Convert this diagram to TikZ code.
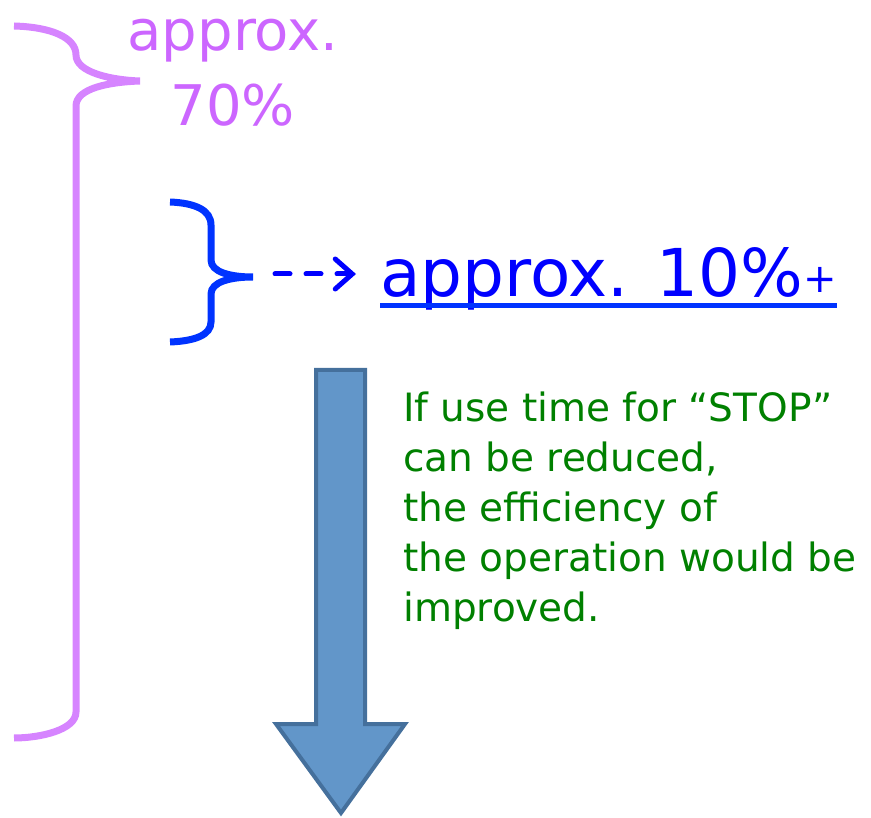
\documentclass[tikz,border=0pt]{standalone}
\usepackage{fontspec}
\setmainfont{DejaVu Sans}
\usetikzlibrary{arrows.meta}
\usetikzlibrary{calc}
\definecolor{pinkline}{RGB}{214,132,255}
\definecolor{pinktext}{RGB}{204,102,255}
\definecolor{blueline}{RGB}{0,51,255}
\definecolor{bluetext}{RGB}{0,0,255}
\definecolor{greentext}{RGB}{0,128,0}
\definecolor{arrowfill}{RGB}{98,150,201}
\definecolor{arrowedge}{RGB}{69,112,156}

\begin{document}
\begin{tikzpicture}[x=1pt, y=-1pt,
        brace/.style={line width=7pt},
        label/.style={inner sep=0pt},
        dashlink/.style={line width=5pt, color=bluetext, line cap=round, dash pattern=on 15pt off 16pt,
            -{Straight Barb[length=17pt, width=30pt, line cap=round]}}]
        \useasboundingbox (0,0) rectangle (871,818);
        % big brace and its share
        \draw[brace, color=pinkline] (14,26) .. controls (50,27) and (76,37) .. (76,55)
            .. controls (76,72) and (110,80) .. (140,81) coordinate (pinktip)
            .. controls (110,82) and (76,88) .. (76,106) -- (76,712)
            .. controls (76,730) and (40,738) .. (14,738);
        \node[label, anchor=north, align=center, text=pinktext, font=\fontsize{56}{75}\selectfont] (bigshare) at (233,19) {approx.\\70\%};
        % small brace and its share
        \draw[brace, color=blueline] (170,202) .. controls (195,203) and (211,210) .. (211,225) -- (211,260)
            .. controls (211,272) and (230,277) .. (253,277) coordinate (bluetip)
            .. controls (230,277) and (211,282) .. (211,294) -- (211,322)
            .. controls (211,335) and (195,341) .. (170,342);
        \node[label, anchor=base west, text=bluetext, font=\fontsize{66}{70}\selectfont] (smallshare) at (380,297)
            {approx. 10\%\raisebox{4pt}{\fontsize{40}{40}\selectfont+}};
        \draw[line width=5pt, color=blueline] ($(smallshare.base west)+(0,9)$) -- ($(smallshare.base east)+(0,9)$);
        \coordinate (linkend) at (356,274);
        \draw[dashlink] ($(bluetip)+(22,-3)$) -- (linkend);
        % down arrow
        \draw[line width=4pt, draw=arrowedge, fill=arrowfill] (316,370) -- (365,370) -- (365,724) -- (405,724)
            -- (341,813) -- (276,724) -- (316,724) -- cycle;
        \node[label, anchor=north west, align=left, text=greentext, font=\fontsize{39}{50}\selectfont] (note) at (403,392)
            {If use time for “STOP”\\can be reduced,\\the efficiency of\\the operation would be\\improved.};
    \end{tikzpicture}
\end{document}
